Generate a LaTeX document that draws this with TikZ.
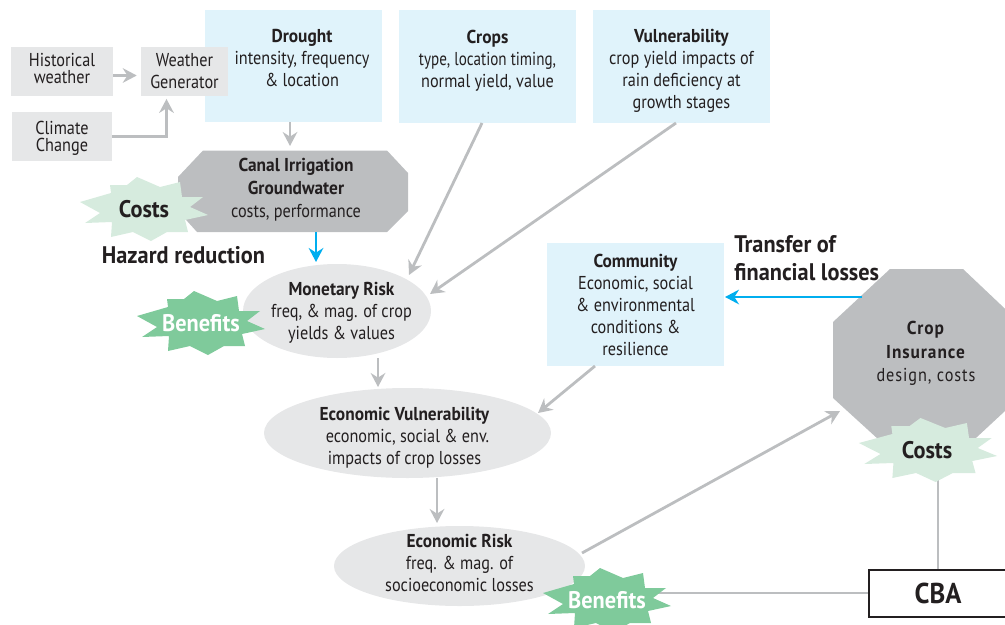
\documentclass[tikz,border=0pt]{standalone}
\usepackage{fontspec}
\setmainfont[FakeStretch=0.87,BoldFeatures={FakeStretch=0.93}]{PT Sans}
\usetikzlibrary{arrows.meta,shapes.geometric}
\definecolor{lblue}{HTML}{E0F3FB}
\definecolor{lgray}{HTML}{E6E7E8}
\definecolor{mgray}{HTML}{BCBEC0}
\definecolor{pgreen}{HTML}{D6EBDE}
\definecolor{dgreen}{HTML}{7FCA9B}
\definecolor{cblue}{HTML}{00AEEF}
\definecolor{ink}{HTML}{231F20}
\newcommand{\burst}[4]{\fill[#4,shift={(#1,#2)},xscale=#3] (-64,-7)--(-33,-16)--(-34,-24)--(-17,-24)--(-7,-32)--(16,-22)--(36,-27)--(38,-12)--(59,-12)--(46,-2)--(64,6)--(41,11)--(44,23)--(23,23)--(7,32)--(-11,23)--(-33,28)--(-32,13)--(-59,14)--(-44,4)--cycle;}
\newcommand{\up}[1]{\rule[-#1]{0pt}{0pt}}
\newcommand{\down}[1]{\rule{0pt}{#1}}
\newcommand{\rt}[1]{\hspace*{#1}}
\newcommand{\tightlines}{\setlength{\lineskiplimit}{-8pt}}
\tikzset{
  size/.style 2 args={minimum width=#1*0.75pt,minimum height=#2*0.75pt},
  body/.style={inner sep=0pt,align=center,text=ink,font=\fontsize{14}{16.5}\selectfont},
  bluebox/.style={body,fill=lblue,rectangle},
  graybox/.style={body,fill=lgray,rectangle,font=\fontsize{14}{12.9}\selectfont\tightlines},
  oval/.style={body,fill=lgray,ellipse,inner xsep=-30pt,inner ysep=-20pt},
  octatext/.style={body},
  burstlabel/.style={inner sep=0pt,font=\fontsize{18}{20}\selectfont\bfseries},
  heading/.style={inner sep=0pt,text=ink,align=left,font=\fontsize{18}{21}\selectfont\bfseries},
  link/.style={draw=mgray,line width=2.1pt,-{Stealth[length=10.5pt,width=11pt,inset=3.5pt]}},
  plainlink/.style={draw=mgray,line width=2.1pt},
  bluelink/.style={draw=cblue,line width=2.1pt,-{Stealth[length=10.5pt,width=11pt,inset=3.5pt]}}
}
\begin{document}
\begin{tikzpicture}[x=0.75pt,y=-0.75pt]
\useasboundingbox (0,0) rectangle (1005,624);
\clip (0,0) rectangle (1005,624);
% top boxes
\node[bluebox,size={177}{112}] (drought) at (293.5,66) {\rt{12.75pt}\textbf{Drought}\\\rt{12.75pt}intensity, frequency\\\rt{12.75pt}\& location\up{12pt}};
\node[bluebox,size={177}{113}] (crops) at (487.5,66.5) {\textbf{Crops}\\\scalebox{0.93}[1]{type, location timing,}\\normal yield, value\up{12pt}};
\node[bluebox,size={177}{113}] (vuln) at (681.5,66.5) {\down{17pt}\textbf{Vulnerability}\\crop yield impacts of\\rain deficiency at\\growth stages};
\node[graybox,size={102}{49}] (hist) at (62,71.5) {Historical\\weather\up{5pt}};
\node[graybox,size={87}{49},font=\fontsize{14}{16.5}\selectfont] (gen) at (184.5,71.5) {Weather\\Generator};
\node[graybox,size={100}{49}] (climate) at (62,136.5) {\down{13pt}Climate\\Change};
% octagons
\fill[mgray] (203,150.5)--(387,150.5)--(408,173)--(408,211)--(387,232)--(197,232)--(178,211)--(178,177)--cycle;
\node[octatext,font=\fontsize{14}{17.2}\selectfont] (canal) at (296,190) {\textbf{Canal Irrigation}\\\textbf{Groundwater}\\costs, performance};
\fill[mgray] (890,269)--(963,269)--(1019,322)--(1019,398)--(963,450)--(890,450)--(833,398)--(833,322)--cycle;
\node[octatext,font=\fontsize{14}{17.5}\selectfont\addfontfeature{LetterSpace=5}] (insurance) at (926,353.5) {\textbf{Crop}\\\textbf{Insurance}\\design, costs};
% ovals and community
\node[oval,size={188}{94}] (monetary) at (337,311) {\rt{6.75pt}\down{12.5pt}\textbf{Monetary Risk}\\\rt{6.75pt}freq, \& mag. of crop\\\rt{6.75pt}yields \& values};
\node[oval,size={287}{90}] (econvuln) at (407.5,433) {\down{17pt}\textbf{Economic Vulnerability}\rt{4.5pt}\\economic, social \& env.\rt{4.5pt}\\impacts of crop losses\rt{4.5pt}};
\node[oval,size={251}{80}] (econrisk) at (459.5,566) {\textbf{Economic Risk}\\freq. \& mag. of\\socioeconomic losses\up{4.5pt}};
\node[bluebox,size={177}{123}] (community) at (635.5,304.5) {\textbf{Community}\\Economic, social\\\& environmental\\conditions \&\\resilience};
\node[draw=ink,fill=white,line width=0.8pt,inner sep=0pt,size={138}{47},font=\fontsize{21.5}{22}\selectfont\bfseries,text=ink] (cba) at (938,593.5) {CBA};
% connector free ends
\coordinate (canalTop) at (290,146);
\coordinate (canalBottom) at (316,232);
\coordinate (insuranceIn) at (840,411);
\coordinate (benefitsEnd) at (655,593);
\coordinate (costsEnd) at (938,470);
% connectors
\draw[link] ([yshift=-3pt]hist.east) -- ([yshift=-3pt,xshift=-3pt]gen.west);
\draw[link] (climate.east) -| ([yshift=-2pt,xshift=-13.5pt]gen.south);
\draw[link] (drought.south -| canalTop) -- (canalTop);
\draw[bluelink] (canalBottom) -- (316,262);
\draw[link] (482,123) -- (409,275);
\draw[link] (676,123) -- (430,294);
\draw[link] (378,358) -- (378,387);
\draw[link] (595,366) -- (538,413);
\draw[link] (437,478) -- (437,523);
\draw[link] (582,553) -- (insuranceIn);
\draw[bluelink] (862,297) -- (725,297);
\draw[plainlink] (costsEnd) -- (cba.north -| costsEnd);
\draw[plainlink] (benefitsEnd) -- (cba.west |- benefitsEnd);
% bursts
\burst{144}{209}{1}{pgreen}
\burst{201}{323}{1}{dgreen}
\burst{928}{450}{1.08}{pgreen}
\burst{607}{600}{1}{dgreen}
\node[burstlabel,text=ink] (costsA) at (144,209) {Costs};
\node[burstlabel,text=white] (benefitsA) at (201,323) {Benefits};
\node[burstlabel,text=ink] (costsB) at (927,450) {Costs};
\node[burstlabel,text=white] (benefitsB) at (607,600) {Benefits};
% headings
\node[heading,anchor=center] (hazard) at (183.5,255) {Hazard reduction};
\node[heading,anchor=west] (transfer) at (734,258) {Transfer of\\financial losses};
\end{tikzpicture}
\end{document}
